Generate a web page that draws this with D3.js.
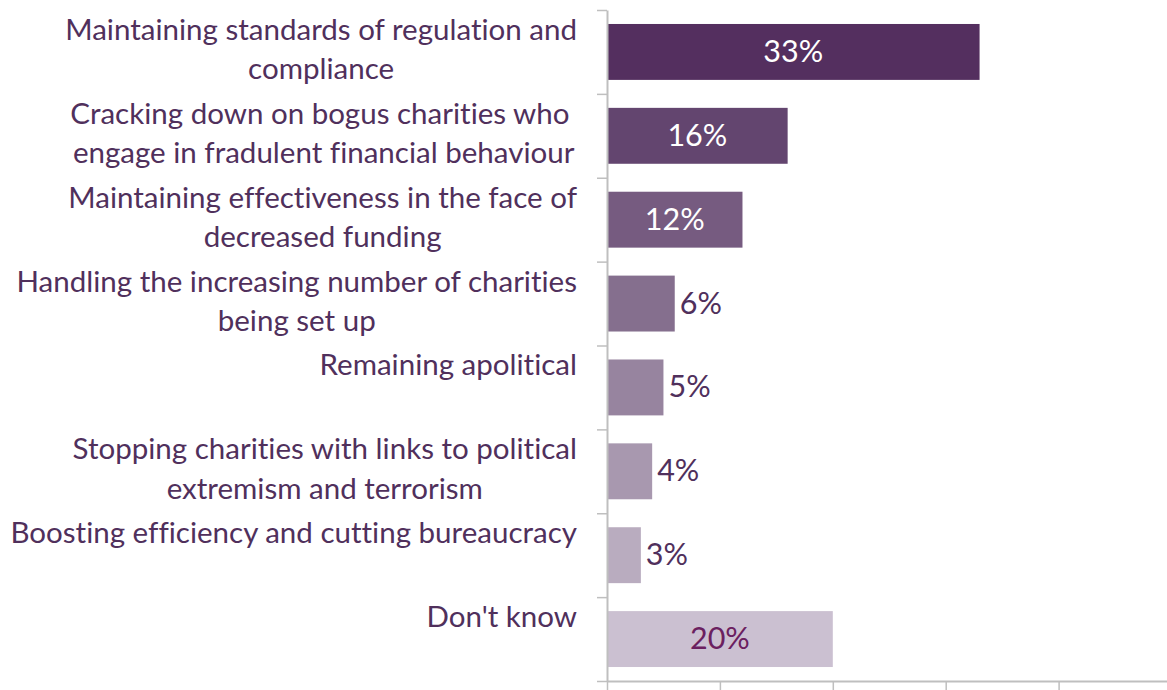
<!DOCTYPE html>
<html>
<head>
<meta charset="utf-8">
<script src="https://cdn.jsdelivr.net/npm/d3@7"></script>
<style>
  html, body { margin: 0; padding: 0; background: #fff; }
  svg { display: block; }
  text { font-family: Lato, "Open Sans", sans-serif; white-space: pre; font-variant-ligatures: none; font-feature-settings: "liga" 0, "clig" 0; }
</style>
</head>
<body>
<svg id="chart" width="1167" height="690"></svg>
<script>
// Category labels, one array of lines per category
const labelLines = [
  ["Maintaining standards of regulation and", "compliance"],
  ["Cracking down on bogus charities who ", "engage in fradulent financial behaviour"],
  ["Maintaining effectiveness in the face of", "decreased funding"],
  ["Handling the increasing number of charities", "being set up"],
  ["Remaining apolitical"],
  ["Stopping charities with links to political", "extremism and terrorism"],
  ["Boosting efficiency and cutting bureaucracy"],
  ["Don't know"]
];
// Share of respondents, in percent
const values = [33, 16, 12, 6, 5, 4, 3, 20];
// Bar fills, darkest to lightest
const barColors = ["#542f5f", "#63456f", "#765b80", "#856f8e", "#97849f", "#a898af", "#b9acbf", "#cbc0d1"];
// Value-label colours and whether the label sits inside the bar
const valueColors = ["#ffffff", "#ffffff", "#ffffff", "#50305c", "#50305c", "#50305c", "#50305c", "#6b2060"];
const valueInside = [true, true, true, false, false, false, false, true];
const xTicks = [0, 10, 20, 30, 40];

const svg = d3.select("#chart");
const ids = d3.range(values.length);

const plotLeft = 607, plotTop = 10, plotBottom = 681;
const labelRight = 577;
const x = d3.scaleLinear().domain([0, 50]).range([plotLeft, 1171.5]);
const y = d3.scaleBand().domain(ids).range([plotTop, plotBottom]).paddingInner(1 / 3).paddingOuter(1 / 6);
const yEdges = d3.scaleLinear().domain([0, values.length]).range([plotTop, plotBottom]);

const textColor = "#50305c";

// Fit label font size so the widest line spans the label column
const probe = svg.append("text").attr("font-size", 100).text("Boosting efficiency and cutting bureaucracy");
const probeW = probe.node().getComputedTextLength();
probe.remove();
const fontSize = Math.min(30, 100 * 567 / probeW);

// Bars
svg.append("g").selectAll("rect").data(ids).join("rect")
  .attr("x", x(0))
  .attr("y", i => y(i))
  .attr("width", i => x(values[i]) - x(0))
  .attr("height", y.bandwidth())
  .attr("fill", i => barColors[i]);

// Axes
const axisStyle = g => {
  g.selectAll(".domain").attr("stroke", "#bfbfbf").attr("stroke-width", 2);
  g.selectAll(".tick line").attr("stroke", "#bfbfbf").attr("stroke-width", 1.5);
  g.selectAll(".tick text").remove();
};
svg.append("g")
  .attr("transform", `translate(${plotLeft},0)`)
  .call(d3.axisLeft(yEdges).tickValues(d3.range(values.length + 1)).tickSize(10).tickSizeOuter(0).tickFormat(""))
  .call(axisStyle);
svg.append("g")
  .attr("transform", `translate(0,${plotBottom})`)
  .call(d3.axisBottom(x).tickValues(xTicks).tickSize(9).tickSizeOuter(0).tickFormat(""))
  .call(axisStyle);

// Category labels: centred blocks, right edge of widest line at labelRight
const lineGap = 39.5;
const labels = svg.append("g").attr("font-size", fontSize).attr("fill", textColor).attr("text-anchor", "middle");
ids.forEach(i => {
  const cy = y(i) + y.bandwidth() / 2;
  const nodes = labelLines[i].map((line, k) =>
    labels.append("text")
      .attr("y", cy - 12 + k * lineGap)
      .text(line));
  const maxW = d3.max(nodes, n => n.node().getComputedTextLength());
  nodes.forEach(n => n.attr("x", labelRight - maxW / 2));
});

// Value labels
svg.append("g").attr("font-size", fontSize + 1).selectAll("text").data(ids).join("text")
  .attr("x", i => valueInside[i] ? (x(0) + x(values[i])) / 2 : x(values[i]) + 5)
  .attr("y", i => y(i) + y.bandwidth() / 2 + 10)
  .attr("text-anchor", i => valueInside[i] ? "middle" : "start")
  .attr("fill", i => valueColors[i])
  .text(i => values[i] + "%");
</script>
</body>
</html>
